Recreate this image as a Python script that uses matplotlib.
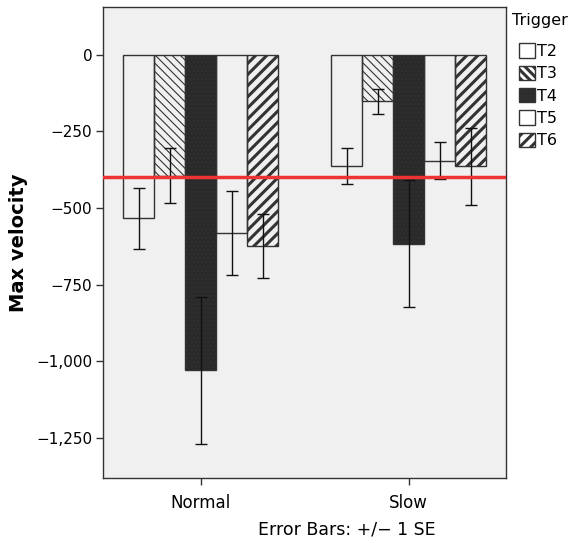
import matplotlib
matplotlib.use("Agg")
import matplotlib.pyplot as plt
import matplotlib.ticker as mticker
import numpy as np

# data
groups = ["Normal", "Slow"]
triggers = ["T2", "T3", "T4", "T5", "T6"]
means = {
    "T2": [-534, -364],
    "T3": [-394, -152],
    "T4": [-1030, -617],
    "T5": [-581, -345],
    "T6": [-623, -364],
}
errors = {
    "T2": [100, 59],
    "T3": [90, 40],
    "T4": [240, 207],
    "T5": [137, 61],
    "T6": [105, 125],
}
ref_line = -400

# bar styles per trigger
styles = {
    "T2": dict(facecolor="none", hatch=None, hlw=1.0),
    "T3": dict(facecolor="none", hatch="\\\\\\\\", hlw=0.8),
    "T4": dict(facecolor="#2a2a2a", hatch="....", hlw=0.6),
    "T5": dict(facecolor="none", hatch=None, hlw=1.0),
    "T6": dict(facecolor="none", hatch="///", hlw=2.2),
}

plt.rcParams["font.family"] = ["DejaVu Sans"]

fig = plt.figure(figsize=(5.75, 5.43), dpi=100)
ax = fig.add_axes([0.1797, 0.1191, 0.7003, 0.8674])
ax.set_facecolor("#f0f0f0")

x = np.arange(len(groups))
width = 0.149
handles = []
for i, t in enumerate(triggers):
    st = styles[t]
    offset = (i - 2) * width
    plt.rcParams["hatch.linewidth"] = st["hlw"]
    plt.rcParams["hatch.color"] = "black"
    bars = ax.bar(x + offset, means[t], width, facecolor=st["facecolor"],
                  edgecolor="#333333", linewidth=1.0, hatch=st["hatch"],
                  label=t, zorder=2)
    handles.append(bars)
    ax.errorbar(x + offset, means[t], yerr=errors[t], fmt="none",
                ecolor="#111111", elinewidth=1.0, capsize=4, capthick=1.0,
                zorder=3)

ax.axhline(ref_line, color="#ee3333", linewidth=2.5, zorder=4)

ax.set_xlim(-0.467, 1.467)
ax.set_ylim(-1382, 155)
ax.set_xticks(x)
ax.set_xticklabels(groups)
ax.set_yticks([0, -250, -500, -750, -1000, -1250])
ax.yaxis.set_major_formatter(mticker.FuncFormatter(
    lambda v, p: f"{v:,.0f}".replace("-", "\u2212")))
ax.tick_params(axis="both", direction="out", length=5, width=1,
               labelsize=11, color="#333333", pad=3)
ax.tick_params(axis="x", pad=6, labelsize=12)
for s in ax.spines.values():
    s.set_color("#333333")
    s.set_linewidth(1.0)

ax.set_ylabel("Max velocity", fontsize=14, fontweight="bold", labelpad=6)

fig.text(0.604, 0.024, "Error Bars: +/\u2212 1 SE", ha="center", va="center",
         fontsize=12.5)

# legend, title drawn separately so the gap matches
fig.text(0.890, 0.963, "Trigger", ha="left", va="center", fontsize=11.5)
leg = fig.legend(handles=handles, labels=triggers,
                 loc="upper left", bbox_to_anchor=(0.892, 0.932),
                 frameon=False, fontsize=11.5,
                 handlelength=1.0, handleheight=1.0, handletextpad=0.1,
                 labelspacing=0.42, borderaxespad=0)

fig.savefig("out.png", dpi=100)
